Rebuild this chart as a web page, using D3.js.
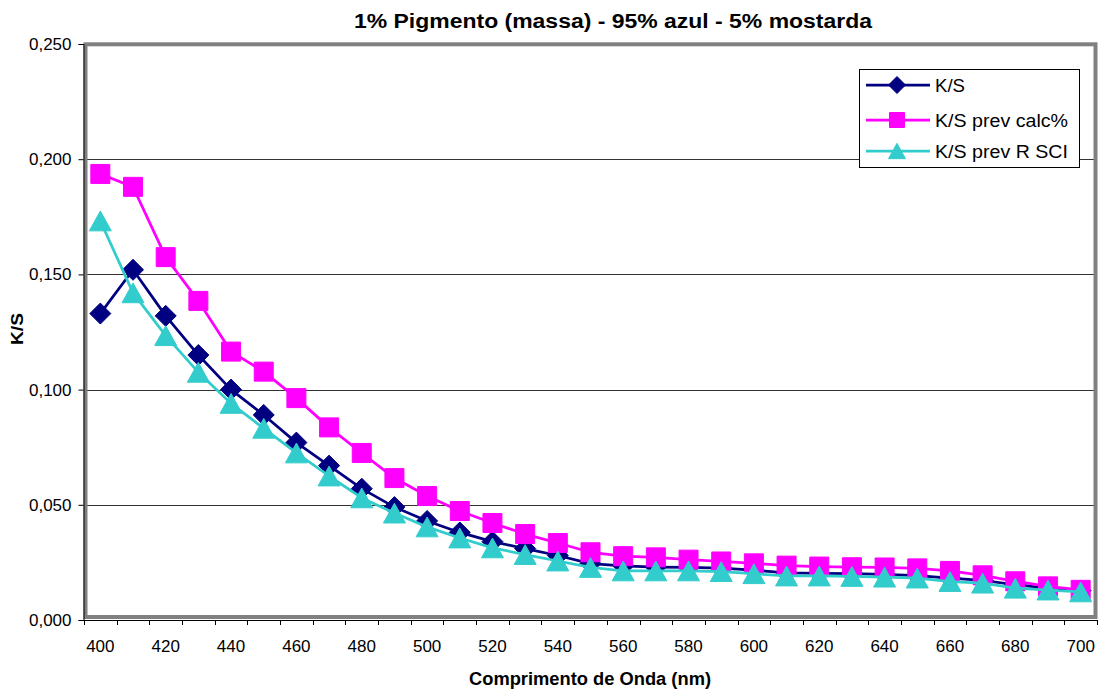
<!DOCTYPE html>
<html>
<head>
<meta charset="utf-8">
<script src="https://cdn.jsdelivr.net/npm/d3@7"></script>
<style>
  html, body { margin: 0; padding: 0; background: #fff; }
  svg { display: block; font-family: "Liberation Sans", Arial, sans-serif; }
</style>
</head>
<body>
<svg id="chart" width="1106" height="689"></svg>
<script>
// ---- data ----
const wavelengths = [400,410,420,430,440,450,460,470,480,490,500,510,520,530,540,550,560,570,580,590,600,610,620,630,640,650,660,670,680,690,700];
const ksMeasured = [0.133,0.152,0.132,0.115,0.100,0.089,0.077,0.067,0.057,0.049,0.043,0.038,0.034,0.031,0.028,0.0245,0.0235,0.0230,0.0228,0.0225,0.0216,0.0205,0.0202,0.0201,0.0198,0.0193,0.0182,0.0172,0.0153,0.0138,0.0127];
const ksPrevCalc = [0.1936,0.188,0.1575,0.1385,0.1165,0.1078,0.0963,0.0836,0.0725,0.0616,0.0538,0.0473,0.0421,0.0373,0.0334,0.0294,0.0277,0.0272,0.0262,0.0254,0.0246,0.0236,0.0232,0.0229,0.0228,0.0224,0.0213,0.0194,0.0168,0.0146,0.0131];
const ksPrevRSCI = [0.1732,0.142,0.1234,0.1075,0.094,0.0832,0.0725,0.0625,0.053,0.0464,0.0404,0.0356,0.0313,0.0284,0.0256,0.0228,0.0213,0.0213,0.0213,0.0210,0.0201,0.0191,0.0191,0.0189,0.0186,0.0182,0.0167,0.0160,0.0138,0.0130,0.0122];
const seriesNames = ["K/S", "K/S prev calc%", "K/S prev R SCI"];
const yTicks = [0, 0.05, 0.10, 0.15, 0.20, 0.25];
const xTickLabels = [400,420,440,460,480,500,520,540,560,580,600,620,640,660,680,700];
const titleText = "1% Pigmento (massa) - 95% azul - 5% mostarda";
const xTitle = "Comprimento de Onda (nm)";
const yTitle = "K/S";

const series = [
  { name: seriesNames[0], values: ksMeasured, color: "#000080", marker: "diamond" },
  { name: seriesNames[1], values: ksPrevCalc, color: "#FF00FF", marker: "square" },
  { name: seriesNames[2], values: ksPrevRSCI, color: "#33CCCC", marker: "triangle" }
];

// ---- layout ----
const svg = d3.select("#chart");
const plot = { left: 84, right: 1097, top: 44, bottom: 620 };

const x = d3.scaleBand().domain(wavelengths).range([plot.left, plot.right]).padding(0);
const xc = d => x(d) + x.bandwidth() / 2;
const y = d3.scaleLinear().domain([0, 0.25]).range([plot.bottom, plot.top]);

const locale = d3.formatLocale({ decimal: ",", thousands: ".", grouping: [3], currency: ["", ""] });
const fmt = locale.format(".3f");

// gridlines
svg.append("g")
  .selectAll("line")
  .data(yTicks.filter(t => t > 0 && t < 0.25))
  .join("line")
  .attr("x1", plot.left).attr("x2", plot.right)
  .attr("y1", d => Math.round(y(d)) + 0.5).attr("y2", d => Math.round(y(d)) + 0.5)
  .attr("stroke", "#333").attr("stroke-width", 1);

// plot-area frame (gray)
svg.append("rect")
  .attr("x", 85.5).attr("y", 44.3)
  .attr("width", 1095.5 - 85.5).attr("height", 617 - 44.3)
  .attr("fill", "none").attr("stroke", "#808080").attr("stroke-width", 4);

// y axis
const yAxis = d3.axisLeft(y).tickValues(yTicks).tickFormat(fmt).tickSize(5).tickPadding(7);
const gy = svg.append("g").attr("transform", "translate(83.5,0)").call(yAxis);
gy.select(".domain").attr("stroke", "#000");
gy.selectAll(".tick line").attr("stroke", "#000");
gy.selectAll(".tick text").attr("font-size", 17).attr("fill", "#000")
  .attr("font-family", "Liberation Sans, Arial, sans-serif");

// x axis: line + boundary ticks + labels
const gx = svg.append("g");
gx.append("line").attr("x1", 83).attr("x2", plot.right).attr("y1", 620.5).attr("y2", 620.5)
  .attr("stroke", "#000").attr("stroke-width", 1);
const boundaries = wavelengths.map(w => x(w)).concat([x.range()[1]]);
gx.selectAll("line.tk").data(boundaries).join("line").attr("class", "tk")
  .attr("x1", d => Math.round(d) + 0.5).attr("x2", d => Math.round(d) + 0.5)
  .attr("y1", 620).attr("y2", 625).attr("stroke", "#000");
gx.selectAll("text").data(xTickLabels).join("text")
  .attr("x", d => xc(d)).attr("y", 652)
  .attr("text-anchor", "middle").attr("font-size", 17).attr("fill", "#000")
  .text(d => d);

// series lines and markers
const line = d3.line().x((d, i) => xc(wavelengths[i])).y(d => y(d));

function markerPath(type, s) {
  if (type === "diamond") { const r = s / 2; return `M0,${-r}L${r},0L0,${r}L${-r},0Z`; }
  if (type === "square") { const r = s / 2; return `M${-r},${-r}H${r}V${r}H${-r}Z`; }
  const w = s, h = s * 0.9; return `M0,${-h/2}L${w/2},${h/2}L${-w/2},${h/2}Z`;
}
const markerSize = { diamond: 21, square: 19, triangle: 22 };

series.forEach(s => {
  const g = svg.append("g");
  g.append("path").datum(s.values).attr("d", line)
    .attr("fill", "none").attr("stroke", s.color).attr("stroke-width", 2.75).attr("stroke-linejoin", "round");
  g.selectAll("path.m").data(s.values).join("path").attr("class", "m")
    .attr("transform", (d, i) => `translate(${xc(wavelengths[i])},${y(d)})`)
    .attr("d", markerPath(s.marker, markerSize[s.marker]))
    .attr("fill", s.color).attr("stroke", s.color).attr("stroke-width", 1);
});

// title
svg.append("text").attr("x", 613).attr("y", 28).attr("text-anchor", "middle")
  .attr("font-weight", "bold").attr("font-size", 19.5)
  .attr("textLength", 518).attr("lengthAdjust", "spacingAndGlyphs")
  .text(titleText);

// x title
svg.append("text").attr("x", 590).attr("y", 685).attr("text-anchor", "middle")
  .attr("font-weight", "bold").attr("font-size", 18)
  .attr("textLength", 242).attr("lengthAdjust", "spacingAndGlyphs")
  .text(xTitle);

// y title
svg.append("text").attr("transform", "translate(23,329) rotate(-90)").attr("text-anchor", "middle")
  .attr("font-weight", "bold").attr("font-size", 16.5)
  .attr("textLength", 32).attr("lengthAdjust", "spacingAndGlyphs")
  .text(yTitle);

// legend
const lg = svg.append("g");
lg.append("rect").attr("x", 859.5).attr("y", 69.5).attr("width", 220).attr("height", 98)
  .attr("fill", "#fff").attr("stroke", "#000").attr("stroke-width", 1);
const legendY = [85, 120, 151];
const legendW = [30, 133, 133];
const legendMarkerSize = { diamond: 17, square: 15, triangle: 17 };
series.forEach((s, i) => {
  const yy = legendY[i];
  lg.append("line").attr("x1", 866).attr("x2", 930).attr("y1", yy).attr("y2", yy)
    .attr("stroke", s.color).attr("stroke-width", 2.75);
  lg.append("path").attr("transform", `translate(897,${yy})`)
    .attr("d", markerPath(s.marker, legendMarkerSize[s.marker]))
    .attr("fill", s.color).attr("stroke", s.color).attr("stroke-width", 1);
  lg.append("text").attr("x", 935).attr("y", yy + 6.5).attr("font-size", 17.5)
    .attr("textLength", legendW[i]).attr("lengthAdjust", "spacingAndGlyphs")
    .text(s.name);
});
</script>
</body>
</html>
